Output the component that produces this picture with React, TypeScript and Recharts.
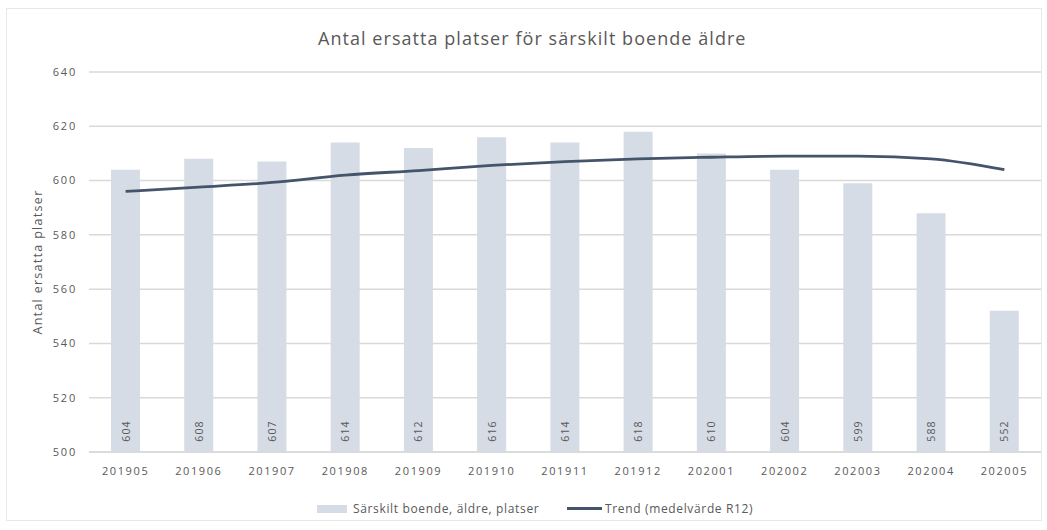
import React from 'react';
import { ComposedChart, Bar, Line, XAxis, YAxis, CartesianGrid, LabelList, Legend } from 'recharts';

const categories = ['201905','201906','201907','201908','201909','201910','201911','201912','202001','202002','202003','202004','202005'];
const platser = [604, 608, 607, 614, 612, 616, 614, 618, 610, 604, 599, 588, 552];
const trend = [596, 597.6, 599.3, 602, 603.7, 605.6, 607, 608, 608.6, 609, 609, 608, 604];
const yTicks = [500, 520, 540, 560, 580, 600, 620, 640];

const BAR_NAME = 'Särskilt boende, äldre, platser';
const LINE_NAME = 'Trend (medelvärde R12)';
const TITLE = 'Antal ersatta platser för särskilt boende äldre';
const Y_LABEL = 'Antal ersatta platser';

const data = categories.map((c, i) => ({ month: c, platser: platser[i], trend: trend[i] }));

const FONT = '"Open Sans", "Noto Sans", sans-serif';
const TEXT = '#595959';

const BarValueLabel = (props: any) => {
  const { x, y, width, height, value } = props;
  const cx = x + width / 2;
  const cy = y + height - 21;
  return (
    <text
      x={cx}
      y={cy}
      transform={`rotate(-90 ${cx} ${cy})`}
      textAnchor="middle"
      dominantBaseline="central"
      fontSize={10.5}
      letterSpacing={1.2}
      fill={TEXT}
      fontFamily={FONT}
    >
      {value}
    </text>
  );
};

const LegendContent = () => (
  <div style={{ position: 'relative', width: 1047, height: 20, fontFamily: FONT, fontSize: 12, letterSpacing: 0.65, color: TEXT }}>
    <div style={{ position: 'absolute', left: 317, top: 6, width: 30, height: 8, background: '#d6dce5' }} />
    <div style={{ position: 'absolute', left: 353, top: 1, whiteSpace: 'nowrap', lineHeight: '18px' }}>{BAR_NAME}</div>
    <div style={{ position: 'absolute', left: 567, top: 8, width: 35, height: 3, background: '#44546a' }} />
    <div style={{ position: 'absolute', left: 605, top: 1, whiteSpace: 'nowrap', lineHeight: '18px' }}>{LINE_NAME}</div>
  </div>
);

export default function App() {
  return (
    <div style={{ position: 'absolute', left: 0, top: 0, width: 1047, height: 530, background: '#fff', fontFamily: FONT }}>
      <div style={{ position: 'absolute', left: 6, top: 8, width: 1036, height: 513, border: '1px solid #e8e8e8', boxSizing: 'border-box' }} />
      <div style={{ position: 'absolute', left: 318, top: 25, whiteSpace: 'nowrap', fontSize: 18, letterSpacing: 1.05, color: TEXT, lineHeight: '26px' }}>
        {TITLE}
      </div>
      <ComposedChart
        width={1047}
        height={530}
        data={data}
        margin={{ top: 72, right: 6, left: 0, bottom: 0 }}
        barCategoryGap="30%"
      >
        <CartesianGrid horizontal vertical={false} stroke="#d9d9d9" strokeWidth={1.5} />
        <XAxis
          dataKey="month"
          height={58}
          tickLine={false}
          axisLine={{ stroke: '#d9d9d9', strokeWidth: 1.5 }}
          tickMargin={9}
          tick={{ fontSize: 11, fill: TEXT, fontFamily: FONT, letterSpacing: 1.6 }}
          interval={0}
        />
        <YAxis
          domain={[500, 640]}
          ticks={yTicks}
          width={89}
          tickLine={false}
          axisLine={false}
          tickMargin={6}
          tick={{ fontSize: 11, fill: TEXT, fontFamily: FONT, letterSpacing: 1.8 }}
          label={{ value: Y_LABEL, angle: -90, position: 'insideLeft', offset: 0, dx: 38, style: { fontSize: 12.5, letterSpacing: 1.3, fill: TEXT, fontFamily: FONT, textAnchor: 'middle' } }}
        />
        <Legend
          verticalAlign="bottom"
          content={<LegendContent />}
          wrapperStyle={{ position: 'absolute', left: 0, top: 499, width: 1047, height: 20 }}
        />
        <Bar dataKey="platser" name={BAR_NAME} fill="#d6dce5" barSize={29} isAnimationActive={false}>
          <LabelList dataKey="platser" content={<BarValueLabel />} />
        </Bar>
        <Line
          dataKey="trend"
          name={LINE_NAME}
          type="monotone"
          stroke="#44546a"
          strokeWidth={2.8}
          dot={false}
          activeDot={false}
          isAnimationActive={false}
        />
      </ComposedChart>
    </div>
  );
}
